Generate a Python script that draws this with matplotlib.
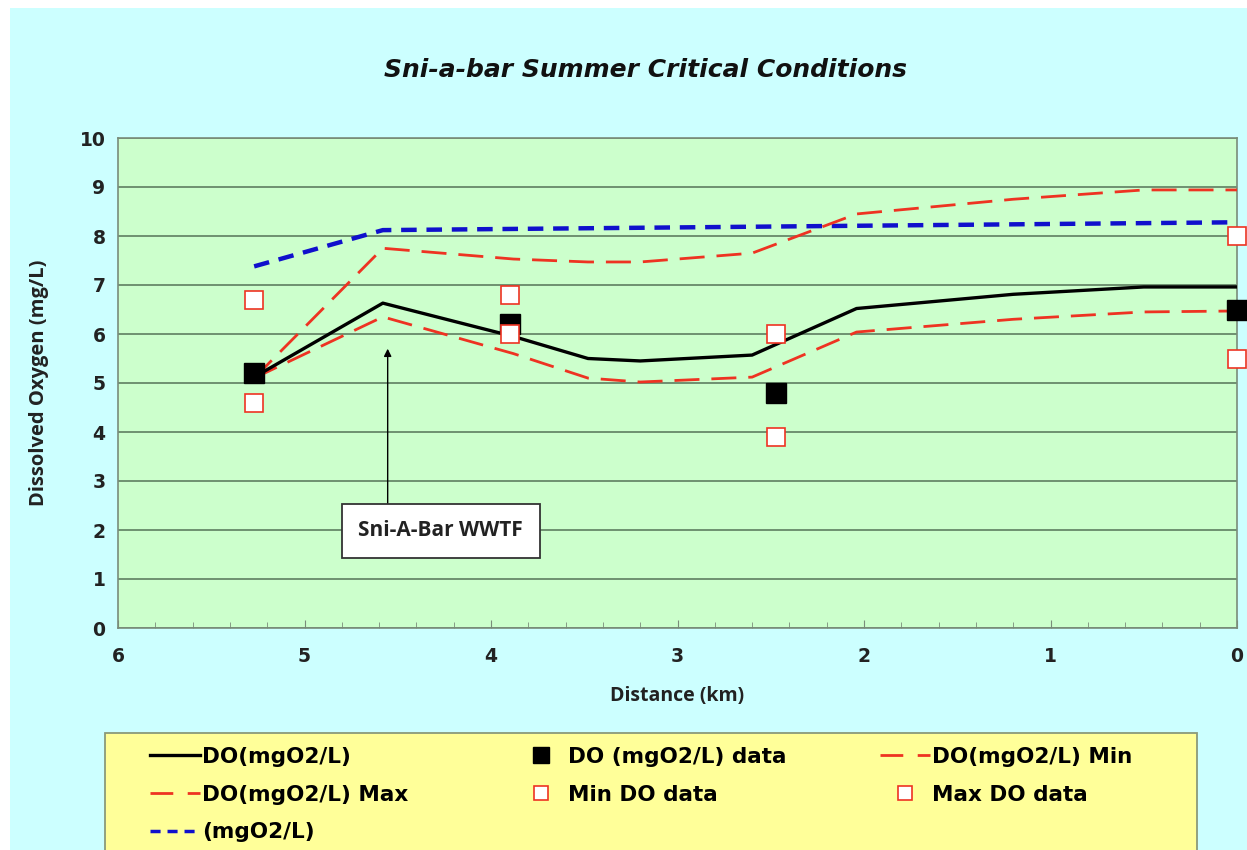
import matplotlib
matplotlib.use("Agg")
import matplotlib.pyplot as plt
from matplotlib.patches import Rectangle
from matplotlib.legend_handler import HandlerLine2D

# ---- data ----
dist_model = [5.27, 4.58, 3.88, 3.48, 3.2, 2.6, 2.04, 1.2, 0.5, 0.0]
do_model = [5.12, 6.63, 5.95, 5.5, 5.45, 5.57, 6.52, 6.81, 6.96, 6.96]
do_max = [5.1, 7.75, 7.53, 7.47, 7.47, 7.65, 8.45, 8.75, 8.94, 8.94]
do_min = [5.1, 6.35, 5.6, 5.1, 5.02, 5.12, 6.04, 6.3, 6.45, 6.47]
dist_sat = [5.27, 4.58, 0.0]
do_sat = [7.38, 8.12, 8.28]

dist_data = [5.27, 3.9, 2.47, 0.0]
do_data = [5.2, 6.2, 4.8, 6.5]
min_data = [4.6, 6.0, 3.9, 5.5]
max_data = [6.7, 6.8, 6.0, 8.0]

x_ticks = [6, 5, 4, 3, 2, 1, 0]
y_ticks = list(range(0, 11))

W, H = 1247, 850
fig = plt.figure(figsize=(W / 100, H / 100), dpi=100)
fig.patch.set_facecolor("white")
fig.patches.append(Rectangle((10 / W, 0), 1, 1 - 8 / H, transform=fig.transFigure,
                             facecolor="#CCFFFF", edgecolor="none", zorder=-10))

ax = fig.add_axes([118 / W, (H - 628) / H, (1237 - 118) / W, 490 / H])
ax.set_zorder(2)
ax.set_facecolor("#CCFFCC")

red = "#EE3322"
blue = "#1010CC"

l_sat, = ax.plot(dist_sat, do_sat, color=blue, lw=3.2, dashes=(3.5, 2.2), zorder=3,
                 label="(mgO2/L)")
l_max, = ax.plot(dist_model, do_max, color=red, lw=2.0, dashes=(9, 4.3), zorder=3,
                 label="DO(mgO2/L) Max")
l_min, = ax.plot(dist_model, do_min, color=red, lw=2.0, dashes=(9, 4.3), zorder=3,
                 label="DO(mgO2/L) Min")
l_do, = ax.plot(dist_model, do_model, color="black", lw=2.4, zorder=4, label="DO(mgO2/L)")
l_dd, = ax.plot(dist_data, do_data, ls="none", marker="s", ms=14, mfc="black", mec="black",
                zorder=5, clip_on=False, label="DO (mgO2/L) data")
l_mind, = ax.plot(dist_data, min_data, ls="none", marker="s", ms=13, mfc="white", mec=red,
                  mew=1.2, zorder=6, clip_on=False, label="Min DO data")
l_maxd, = ax.plot(dist_data, max_data, ls="none", marker="s", ms=13, mfc="white", mec=red,
                  mew=1.2, zorder=6, clip_on=False, label="Max DO data")

ax.set_xlim(6, 0)
ax.set_ylim(0, 10)
ax.set_xticks(x_ticks)
ax.set_xticks([i / 5 for i in range(31)], minor=True)
ax.set_yticks(y_ticks)
ax.yaxis.grid(True, color="#5E7E60", lw=1.2)
ax.set_axisbelow(True)
for s in ax.spines.values():
    s.set_color("#7A8C7A")
    s.set_linewidth(1.2)

tickfont = dict(family="DejaVu Sans", weight="bold", size=13.5)
ax.set_xticklabels([str(t) for t in x_ticks], **tickfont)
ax.set_yticklabels([str(t) for t in y_ticks], **tickfont)
ax.tick_params(axis="x", which="major", direction="in", length=6, pad=14)
ax.tick_params(axis="x", which="minor", direction="in", length=4)
ax.tick_params(axis="y", which="both", length=0, pad=9, colors="#222222")
ax.tick_params(axis="x", which="both", color="#7A8C7A", labelcolor="#222222")

ax.set_xlabel("Distance (km)", family="Open Sans", weight="bold", size=14, labelpad=14,
              color="#222222")
ax.set_ylabel("Dissolved Oxygen (mg/L)", family="Open Sans", weight="bold", size=14.5,
              labelpad=22, color="#222222")

fig.text(645 / W, 1 - 70 / H, "Sni-a-bar Summer Critical Conditions", ha="center",
         va="center", family="DejaVu Sans", weight="bold", style="italic", size=18,
         color="#111111")

# annotation: vertical arrow from the label box up to the WWTF location
wwtf_km = 4.554
ax.annotate("", xy=(wwtf_km, 5.7), xytext=(wwtf_km, 2.51),
            arrowprops=dict(arrowstyle="-|>", color="black", lw=1.0,
                            mutation_scale=11, shrinkA=0, shrinkB=0),
            zorder=7)
ax.text(4.27, 1.98, "Sni-A-Bar WWTF", ha="center", va="center",
        family="Open Sans", weight="bold", size=15, color="#222222",
        bbox=dict(boxstyle="square,pad=0.8", fc="white", ec="#333333", lw=1.3),
        zorder=8)

# legend box
fig.patches.append(Rectangle((105 / W, -0.05), (1197 - 105) / W, (H - 733) / H + 0.05,
                             transform=fig.transFigure, facecolor="#FFFF99",
                             edgecolor="#8A9A7A", lw=1.3, zorder=1))


def dash_handler(dashes, lw):
    def upd(legline, orig):
        legline.update_from(orig)
        legline.set_dashes(dashes)
        legline.set_linewidth(lw)
    return HandlerLine2D(update_func=upd)


hmap = {l_max: dash_handler((8.2, 5.2), 2.0), l_min: dash_handler((8.2, 5.2), 2.0),
        l_sat: dash_handler((2.9, 2.0), 2.5)}

legfont = dict(family="DejaVu Sans", weight="bold", size=15.5)
cols = [([l_do, l_max, l_sat], 150), ([l_dd, l_mind], 516), ([l_min, l_maxd], 880)]
for handles, xpix in cols:
    leg = fig.legend(handles=handles, labels=[h.get_label() for h in handles],
                     loc="upper left", bbox_to_anchor=(xpix / W, 1 - 747 / H),
                     frameon=False, prop=legfont, handlelength=2.32, handletextpad=0.1,
                     labelspacing=0.82, borderaxespad=0, borderpad=0, markerscale=0.8,
                     handler_map=hmap)
    leg.set_zorder(5)

fig.savefig("out.png", dpi=100, facecolor=fig.get_facecolor())
